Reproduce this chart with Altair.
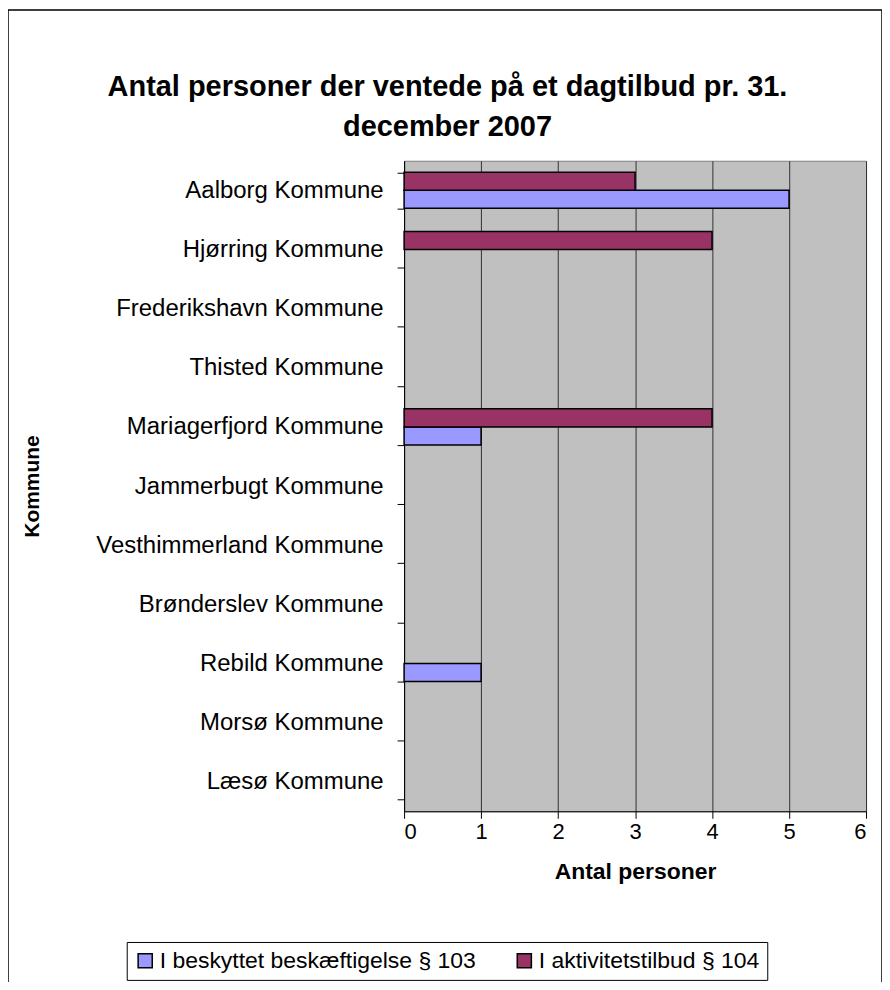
import altair as alt
import pandas as pd

kommuner = ["Aalborg Kommune", "Hjørring Kommune", "Frederikshavn Kommune", "Thisted Kommune",
            "Mariagerfjord Kommune", "Jammerbugt Kommune", "Vesthimmerland Kommune",
            "Brønderslev Kommune", "Rebild Kommune", "Morsø Kommune", "Læsø Kommune"]
s103 = [5, 0, 0, 0, 1, 0, 0, 0, 1, 0, 0]
s104 = [3, 4, 0, 0, 4, 0, 0, 0, 0, 0, 0]
serie_navne = ["I beskyttet beskæftigelse § 103", "I aktivitetstilbud § 104"]
farver = ["#9999FF", "#993366"]
x_ticks = [0, 1, 2, 3, 4, 5, 6]
titel = ["Antal personer der ventede på et dagtilbud pr. 31.", "december 2007"]

rows = []
for k, a, b in zip(kommuner, s103, s104):
    rows.append({"Kommune": k, "Serie": serie_navne[0], "Antal": a})
    rows.append({"Kommune": k, "Serie": serie_navne[1], "Antal": b})
df = pd.DataFrame(rows)

W, H = 463, 652
FONT = "Liberation Sans"

bars = alt.Chart(df).transform_filter(alt.datum.Antal > 0).mark_bar(
    stroke="black", strokeWidth=1.5
).encode(
    x=alt.X("Antal:Q", scale=alt.Scale(domain=[0, 6], nice=False),
            axis=alt.Axis(title="Antal personer", values=x_ticks, format="d",
                          grid=True, gridColor="#333333", gridWidth=1,
                          domainColor="black", tickColor="black", tickSize=7,
                          labelFontSize=22, labelPadding=3, labelColor="black",
                          titleFontSize=23, titleFontWeight="bold", titlePadding=18,
                          titleColor="black")),
    y=alt.Y("Kommune:N", scale=alt.Scale(domain=kommuner, paddingInner=0.39, paddingOuter=0.195),
            axis=alt.Axis(title="Kommune", tickBand="extent", tickSize=7, tickColor="black",
                          domainColor="black", labelFontSize=24, labelPadding=14, labelLimit=0,
                          labelColor="black", titleFontSize=21, titleFontWeight="bold",
                          titleColor="black", titleX=-372, titleY=H / 2,
                          titleAlign="center", titleBaseline="middle", grid=False)),
    yOffset=alt.YOffset("Serie:N", scale=alt.Scale(domain=[serie_navne[1], serie_navne[0]])),
    color=alt.Color("Serie:N", scale=alt.Scale(domain=serie_navne, range=farver),
                    legend=alt.Legend(title=None, orient="none", legendX=-278, legendY=783,
                                      direction="horizontal", strokeColor="black",
                                      padding=7, symbolType="square", symbolSize=200,
                                      symbolStrokeColor="black", symbolStrokeWidth=1.5,
                                      labelFontSize=23, labelColor="black", labelLimit=0,
                                      columnPadding=36, symbolOffset=0, labelOffset=3)),
)

frame = alt.Chart(pd.DataFrame({"a": [0]})).mark_rect(
    fill=None, stroke="black", strokeWidth=1.5
).encode(x=alt.value(-397), x2=alt.value(W + 16), y=alt.value(-151), y2=alt.value(H + 200))

chart = alt.layer(bars, frame).properties(
    width=W, height=H,
    padding={"left": 397, "top": 152, "right": 16, "bottom": 170},
    autosize=alt.AutoSizeParams(type="none"),
    title=alt.TitleParams(
        text=titel, fontSize=29, fontWeight="bold", font=FONT, color="black",
        anchor="middle", dx=-188, offset=-162, lineHeight=40, baseline="bottom"),
).configure(font=FONT).configure_view(fill="#C0C0C0", stroke="#808080")

chart.save("out.html", embed_options={"renderer": "svg", "actions": False})
